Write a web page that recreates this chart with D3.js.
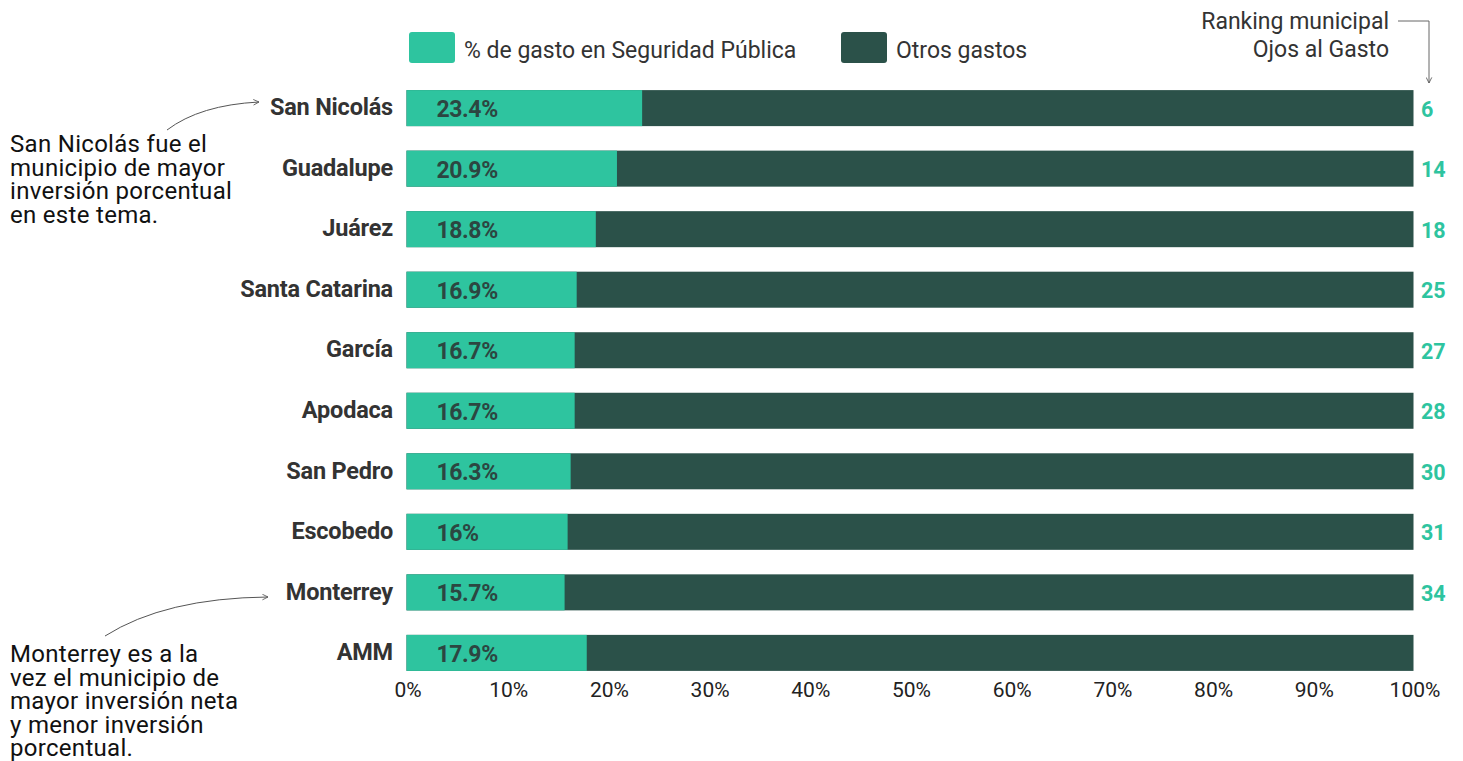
<!DOCTYPE html>
<html>
<head>
<meta charset="utf-8">
<script src="https://cdn.jsdelivr.net/npm/d3@7"></script>
<style>
  html, body { margin: 0; padding: 0; background: #fff; }
  svg { display: block; font-family: Roboto, "Noto Sans", sans-serif; }
</style>
</head>
<body>
<svg id="chart" width="1463" height="761"></svg>
<script>
const categories = ["San Nicolás", "Guadalupe", "Juárez", "Santa Catarina", "García", "Apodaca", "San Pedro", "Escobedo", "Monterrey", "AMM"];
const seguridad = [23.4, 20.9, 18.8, 16.9, 16.7, 16.7, 16.3, 16, 15.7, 17.9];
const labels = ["23.4%", "20.9%", "18.8%", "16.9%", "16.7%", "16.7%", "16.3%", "16%", "15.7%", "17.9%"];
const ranking = ["6", "14", "18", "25", "27", "28", "30", "31", "34", ""];
const tickValues = [0, 10, 20, 30, 40, 50, 60, 70, 80, 90, 100];
const legendItems = ["% de gasto en Seguridad Pública", "Otros gastos"];
const note1 = ["San Nicolás fue el", "municipio de mayor", "inversión porcentual", "en este tema."];
const note2 = ["Monterrey es a la", "vez el municipio de", "mayor inversión neta", "y menor inversión", "porcentual."];

const TEAL = "#2ec49f", DARK = "#2b5149";

const svg = d3.select("#chart");
svg.append("defs").append("marker")
  .attr("id", "arr").attr("viewBox", "0 0 10 10").attr("refX", 9).attr("refY", 5)
  .attr("markerWidth", 7).attr("markerHeight", 7).attr("orient", "auto")
  .append("path").attr("d", "M1,1 L9,5 L1,9").attr("fill", "none")
  .attr("stroke", "#555").attr("stroke-width", 1.2);

const x = d3.scaleLinear().domain([0, 100]).range([406.5, 1413.5]);
const y = d3.scaleBand().domain(categories).range([78, 683]).paddingInner(0.405).paddingOuter(0.2);

const data = categories.map((c, i) => ({ c, v: seguridad[i], lab: labels[i], r: ranking[i] }));

const g = svg.append("g");
g.selectAll("rect.o").data(data).join("rect").attr("class", "o")
  .attr("x", x(0)).attr("width", x(100) - x(0))
  .attr("y", d => y(d.c)).attr("height", y.bandwidth()).attr("fill", DARK);
g.selectAll("rect.s").data(data).join("rect").attr("class", "s")
  .attr("x", x(0)).attr("width", d => x(d.v) - x(0))
  .attr("y", d => y(d.c)).attr("height", y.bandwidth()).attr("fill", TEAL);

g.selectAll("text.v").data(data).join("text").attr("class", "v")
  .attr("x", x(0) + 30).attr("y", d => y(d.c) + y.bandwidth() / 2 + 1)
  .attr("dy", "0.35em").attr("font-size", 23).attr("font-weight", 700)
  .attr("fill", "#2c4641").attr("letter-spacing", -0.4).text(d => d.lab);

g.selectAll("text.c").data(data).join("text").attr("class", "c")
  .attr("x", 393).attr("y", d => y(d.c) + y.bandwidth() / 2 - 1)
  .attr("dy", "0.35em").attr("text-anchor", "end").attr("font-size", 23.5).attr("font-weight", 700)
  .attr("fill", "#333").attr("letter-spacing", -0.2).text(d => d.c);

g.selectAll("text.r").data(data).join("text").attr("class", "r")
  .attr("x", x(100) + 7.5).attr("y", d => y(d.c) + y.bandwidth() / 2 + 1)
  .attr("dy", "0.35em").attr("font-size", 21.5).attr("font-weight", 700)
  .attr("fill", TEAL).text(d => d.r);

const axis = d3.axisBottom(x).tickValues(tickValues).tickFormat(d => d + "%").tickSize(0).tickPadding(0);
const ax = svg.append("g").attr("transform", "translate(1,682)").call(axis);
ax.select(".domain").remove();
ax.selectAll("text").attr("font-size", 21).attr("fill", "#222")
  .attr("font-family", "Roboto, sans-serif");

const legX = [409, 841];
const leg = svg.append("g");
legendItems.forEach((t, i) => {
  leg.append("rect").attr("x", legX[i]).attr("y", 32).attr("width", 46).attr("height", 31)
    .attr("rx", 3).attr("fill", i === 0 ? TEAL : DARK);
  leg.append("text").attr("x", legX[i] + 55).attr("y", 58).attr("font-size", 23)
    .attr("fill", "#333").text(t);
});

const rk = svg.append("g");
rk.append("text").attr("x", 1389).attr("y", 29).attr("text-anchor", "end").attr("font-size", 23)
  .attr("fill", "#333").text("Ranking municipal");
rk.append("text").attr("x", 1389).attr("y", 57).attr("text-anchor", "end").attr("font-size", 23)
  .attr("fill", "#333").text("Ojos al Gasto");
rk.append("path").attr("d", "M1398,21 L1429,21 L1429,83").attr("fill", "none")
  .attr("stroke", "#666").attr("stroke-width", 1).attr("marker-end", "url(#arr)");

function note(lines, x0, y0) {
  const t = svg.append("text").attr("x", x0).attr("y", y0).attr("font-size", 24)
    .attr("letter-spacing", 0.3).attr("fill", "#111");
  lines.forEach((l, i) => t.append("tspan").attr("x", x0).attr("y", y0 + i * 23.6).text(l));
}
note(note1, 10, 152);
note(note2, 10, 662);

svg.append("path").attr("d", "M167,130 Q200,105 259,102").attr("fill", "none")
  .attr("stroke", "#555").attr("stroke-width", 1).attr("marker-end", "url(#arr)");
svg.append("path").attr("d", "M105,636 Q165,598 268,597").attr("fill", "none")
  .attr("stroke", "#555").attr("stroke-width", 1).attr("marker-end", "url(#arr)");
</script>
</body>
</html>
